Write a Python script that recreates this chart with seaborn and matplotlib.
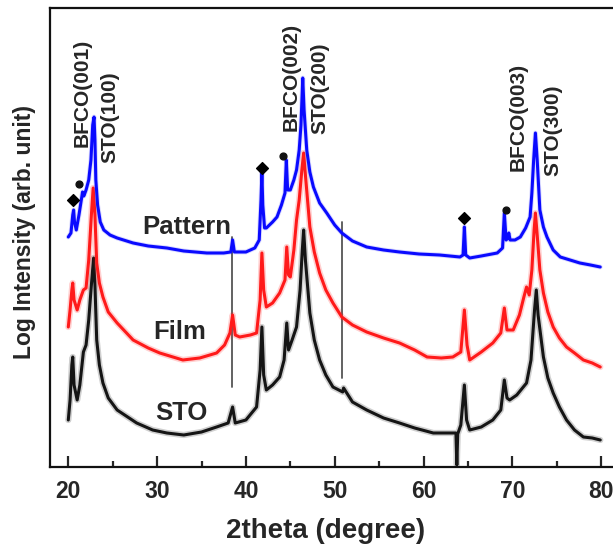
import matplotlib
matplotlib.use("Agg")
import matplotlib.pyplot as plt
import numpy as np
import pandas as pd
import seaborn as sns

# ---- XRD scans (2theta in degrees, log intensity in arbitrary units) ----
pattern_2theta = [20.0, 20.3, 20.5, 20.6, 20.7, 20.9, 21.2, 21.5, 21.6, 21.75, 22.0, 22.3, 22.55,
                  22.75, 22.9, 23.0, 23.1, 23.3, 23.6, 24.0, 24.7, 25.5, 27.3, 29.0, 31.1, 33.0,
                  35.6, 37.5, 38.3, 38.5, 38.7, 40.0, 41.0, 41.5, 41.7, 41.8, 41.9, 42.1, 42.3,
                  43.0, 43.5, 44.0, 44.4, 44.55, 44.7, 45.0, 45.4, 45.7, 46.0, 46.2, 46.4, 46.55,
                  46.85, 47.2, 47.6, 48.3, 49.1, 50.0, 50.8, 52.0, 53.6, 55.5, 57.3, 59.5, 61.8,
                  64.1, 64.45, 64.6, 64.75, 65.2, 66.5, 68.3, 68.9, 69.1, 69.3, 69.5, 69.6, 69.75,
                  70.3, 70.9, 71.5, 72.0, 72.2, 72.4, 72.6, 72.8, 73.1, 73.5, 73.9, 74.6, 75.4,
                  76.5, 77.6, 78.8, 79.9]
pattern_int = [230, 234, 252, 257, 245, 237, 252, 269, 275, 271, 277, 287, 307,
               342, 350, 327, 287, 262, 245, 237, 232, 229, 224, 221, 219, 216,
               214, 214, 215, 227, 215, 215, 219, 227, 267, 295, 262, 239, 239,
               245, 250, 262, 274, 307, 277, 277, 287, 297, 317, 342, 389, 357,
               317, 295, 280, 264, 254, 242, 234, 226, 220, 217, 215, 213, 212,
               210, 212, 240, 212, 209, 211, 214, 219, 254, 227, 229, 234, 227,
               227, 230, 239, 250, 274, 307, 334, 307, 257, 240, 230, 217, 210,
               207, 204, 202, 200]

film_2theta = [20.0, 20.2, 20.4, 20.5, 20.65, 21.0, 21.3, 21.7, 22.0, 22.3, 22.6, 22.8, 23.0,
               23.2, 23.5, 23.9, 24.5, 25.5, 27.3, 29.0, 30.3, 32.9, 34.8, 36.7, 37.6, 38.2,
               38.5, 38.8, 39.3, 40.5, 41.2, 41.6, 41.8, 42.0, 42.3, 43.0, 43.8, 44.4, 44.6,
               44.8, 45.0, 45.4, 45.7, 46.0, 46.3, 46.5, 46.7, 47.2, 47.7, 48.3, 49.0, 49.8,
               50.8, 52.0, 53.6, 55.5, 57.3, 59.0, 60.4, 62.0, 63.3, 64.2, 64.6, 64.9, 65.2,
               66.5, 67.8, 68.7, 69.1, 69.4, 70.1, 70.8, 71.3, 71.6, 71.9, 72.2, 72.45, 72.6,
               72.8, 73.1, 73.5, 74.0, 74.6, 75.3, 76.1, 77.0, 78.0, 79.0, 79.9]
film_int = [140, 157, 177, 184, 167, 157, 167, 177, 179, 207, 252, 279, 252,
            204, 184, 170, 155, 144, 127, 119, 114, 107, 109, 114, 122, 134,
            152, 132, 130, 132, 134, 167, 214, 177, 160, 164, 174, 187, 220,
            192, 190, 217, 247, 267, 297, 314, 292, 240, 215, 194, 177, 164,
            150, 142, 135, 129, 124, 117, 110, 109, 110, 115, 157, 122, 107,
            115, 124, 134, 159, 137, 137, 152, 170, 180, 172, 197, 237, 254,
            232, 197, 174, 155, 140, 129, 120, 114, 107, 104, 100]

sto_2theta = [20.0, 20.2, 20.4, 20.5, 20.65, 21.0, 21.3, 21.7, 22.0, 22.3, 22.6, 22.85, 23.0,
              23.2, 23.5, 23.9, 24.5, 25.5, 27.7, 29.5, 31.1, 33.0, 35.0, 36.7, 38.0, 38.5,
              38.8, 40.0, 41.2, 41.6, 41.8, 42.0, 42.3, 43.0, 43.8, 44.3, 44.6, 44.8, 45.2,
              45.7, 46.1, 46.35, 46.5, 46.7, 47.2, 47.7, 48.3, 49.0, 49.8, 50.9, 51.0, 52.0,
              53.6, 55.5, 57.3, 59.0, 61.1, 63.3, 63.65, 63.75, 63.85, 64.2, 64.6, 64.85, 65.2,
              66.5, 67.8, 68.7, 69.1, 69.4, 69.7, 70.5, 71.6, 72.1, 72.5, 72.7, 72.9, 73.5,
              74.0, 74.6, 75.3, 76.1, 77.0, 78.0, 79.0, 79.9]
sto_int = [47, 67, 102, 110, 82, 67, 82, 115, 122, 147, 182, 209, 182,
           127, 102, 84, 69, 57, 44, 37, 34, 32, 35, 40, 44, 60,
           44, 47, 60, 97, 140, 92, 77, 82, 90, 107, 144, 117, 127,
           140, 177, 217, 237, 207, 154, 127, 107, 92, 80, 75, 79, 65,
           57, 49, 44, 39, 34, 34, 34, 2, 33, 42, 82, 47, 37,
           40, 47, 57, 87, 69, 67, 72, 84, 107, 157, 177, 152, 110,
           89, 74, 60, 47, 37, 30, 29, 27]

# reflection labels: (text, 2theta, height)
peak_labels = ["BFCO(001)", "STO(100)", "BFCO(002)", "STO(200)", "BFCO(003)", "STO(300)"]
peak_label_x = [21.54, 24.7, 45.07, 48.34, 70.65, 74.6]
peak_label_y = [374, 350, 390, 379, 350, 337]

# impurity markers above the Pattern scan
diamond_x = [20.50, 41.78, 64.59]
diamond_y = [267, 299, 249]
star_x = [21.24, 44.14, 69.26]
star_y = [283, 311, 257]

# reference lines
ref_x = [38.48, 50.86]
ref_lo = [80, 89]
ref_hi = [230, 245]

series_names = ["Pattern", "Film", "STO"]
series_colors = ["#0a0aff", "#ff1a1a", "#151515"]
series_label_x = [33.37, 32.58, 32.7]
series_label_y = [240, 135, 54]

frames = []
for name, xs, ys in zip(series_names,
                        [pattern_2theta, film_2theta, sto_2theta],
                        [pattern_int, film_int, sto_int]):
    frames.append(pd.DataFrame({"two_theta": xs, "intensity": ys, "sample": name}))
data = pd.concat(frames, ignore_index=True)

sns.set_style("ticks")
plt.rcParams["font.family"] = ["Liberation Sans", "DejaVu Sans"]
plt.rcParams["font.weight"] = "bold"

fig = plt.figure(figsize=(6.13, 5.47), dpi=100)
ax = fig.add_axes([50 / 613, 80 / 547, 568.9 / 613, 459 / 547])

# vertical reference lines behind the scans
for x, lo, hi in zip(ref_x, ref_lo, ref_hi):
    ax.plot([x, x], [lo, hi], color="#555555", lw=1.3, zorder=1)

# each scan: a faint wide stroke for the counting noise, then the trace itself
styles = {"STO": (series_colors[2], 2.2, 4.5, 0.2),
          "Film": (series_colors[1], 2.2, 4.5, 0.2),
          "Pattern": (series_colors[0], 2.2, 3.5, 0.15)}
for name in ["STO", "Film", "Pattern"]:
    color, lw, halo, alpha = styles[name]
    sub = data[data["sample"] == name]
    sns.lineplot(data=sub, x="two_theta", y="intensity", ax=ax, color=color,
                 lw=halo, alpha=alpha, estimator=None, sort=False, legend=False, zorder=2)
    sns.lineplot(data=sub, x="two_theta", y="intensity", ax=ax, color=color,
                 lw=lw, estimator=None, sort=False, legend=False, zorder=2)

ax.scatter(diamond_x, diamond_y, marker="D", s=36, color="black", zorder=3)
ax.scatter(star_x, star_y, marker="o", s=24, color="#111111", zorder=3)

for t, x, y in zip(peak_labels, peak_label_x, peak_label_y):
    ax.text(x, y, t, rotation=90, ha="center", va="center", fontsize=15, fontweight="bold")

for t, x, y in zip(series_names, series_label_x, series_label_y):
    ax.text(x, y, t, ha="center", va="center", fontsize=18.5, fontweight="bold")

ax.set_xlim(17.94, 82)
ax.set_ylim(0, 459)
ax.set_xticks([20, 30, 40, 50, 60, 70, 80])
ax.set_xticks([25, 35, 45, 55, 65, 75], minor=True)
ax.set_yticks([])
ax.tick_params(axis="x", which="major", direction="in", length=8, width=1.6,
               labelsize=16.5, pad=9)
ax.tick_params(axis="x", which="minor", direction="in", length=4, width=1.6)
for lab in ax.get_xticklabels():
    lab.set_fontweight("bold")
for s in ax.spines.values():
    s.set_linewidth(1.6)
    s.set_color("#111111")
ax.spines["right"].set_visible(False)

ax.set_xlabel("")
ax.set_ylabel("")
ax.text(0.485, -0.155, "2theta (degree)", transform=ax.transAxes, ha="center",
        va="baseline", fontsize=20, fontweight="bold")
ax.text(-0.0457, 0.512, "Log Intensity (arb. unit)", transform=ax.transAxes,
        ha="center", va="center", rotation=90, fontsize=16.5, fontweight="bold")

fig.savefig("out.png", dpi=100)
